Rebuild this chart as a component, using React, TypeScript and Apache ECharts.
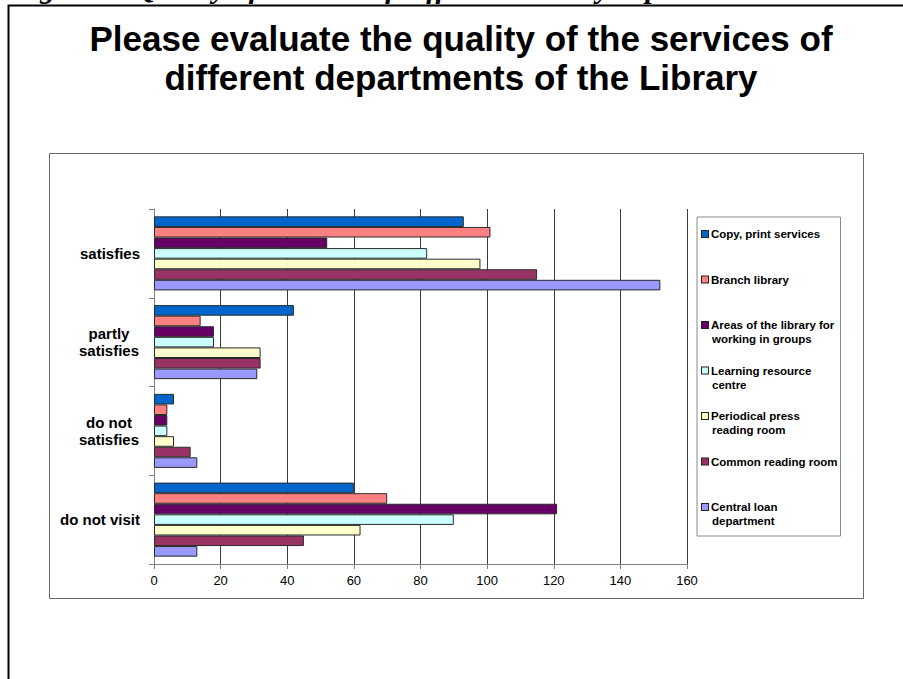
import React, { useEffect, useRef } from "react";
import * as echarts from "echarts";

const titleText = "Please evaluate the quality of the services of\ndifferent departments of the Library";
const captionText = "Figure 5. Quality of services of different Library departments";

const categories = ["satisfies", "partly\nsatisfies", "do not\nsatisfies", "do not visit"];

const departments = [
  "Copy, print services",
  "Branch library",
  "Areas of the library for working in groups",
  "Learning resource centre",
  "Periodical press reading room",
  "Common reading room",
  "Central loan department",
];

const legendLines = [
  ["Copy, print services"],
  ["Branch library"],
  ["Areas of the library for", "working in groups"],
  ["Learning resource", "centre"],
  ["Periodical press", "reading room"],
  ["Common reading room"],
  ["Central loan", "department"],
];

const colors = ["#0066CC", "#FF8080", "#660066", "#CCFFFF", "#FFFFCC", "#993366", "#9999FF"];

// values per department: [satisfies, partly satisfies, do not satisfies, do not visit]
const copyPrint = [93, 42, 6, 60];
const branchLibrary = [101, 14, 4, 70];
const groupAreas = [52, 18, 4, 121];
const learningCentre = [82, 18, 4, 90];
const periodicalRoom = [98, 32, 6, 62];
const commonRoom = [115, 32, 11, 45];
const centralLoan = [152, 31, 13, 13];

const seriesValues = [copyPrint, branchLibrary, groupAreas, learningCentre, periodicalRoom, commonRoom, centralLoan];

const xTicks = { min: 0, max: 160, interval: 20 };

export default function App() {
  const ref = useRef<HTMLDivElement>(null);

  useEffect(() => {
    if (!ref.current) return;
    const chart = echarts.init(ref.current, undefined, { renderer: "svg" });

    const rich: Record<string, any> = {
      t: { fontSize: 11.5, fontWeight: "bold", fontFamily: "'Liberation Sans', Arial, sans-serif", lineHeight: 14, color: "#000" },
      g: { width: 3, height: 7 },
      s: { width: 10, height: 7 },
    };
    colors.forEach((c, i) => {
      rich["m" + i] = { width: 6, height: 6, backgroundColor: c, borderColor: "#222", borderWidth: 1, verticalAlign: "middle" };
    });

    const option: any = {
      animation: false,
      backgroundColor: "#fff",
      title: {
        text: titleText,
        left: 456,
        top: 14,
        textAlign: "center",
        textStyle: {
          fontFamily: "'Liberation Sans', Arial, sans-serif",
          fontSize: 35,
          fontWeight: "bold",
          lineHeight: 39,
          color: "#000",
        },
      },
      graphic: [
        {
          type: "rect",
          z: 0,
          shape: { x: 8.5, y: 5.5, width: 1000, height: 1000 },
          style: { fill: "none", stroke: "#000", lineWidth: 2 },
          silent: true,
        },
        {
          type: "rect",
          z: 0,
          shape: { x: 49.5, y: 153.5, width: 814, height: 445 },
          style: { fill: "none", stroke: "#6a6a6a", lineWidth: 1 },
          silent: true,
        },
        {
          type: "text",
          x: 12,
          y: 2.5,
          style: {
            text: captionText,
            font: "italic bold 30px 'Liberation Serif', 'Times New Roman', serif",
            fill: "#000",
            verticalAlign: "bottom",
          },
          silent: true,
        },
      ],
      grid: { left: 154, right: 216, top: 209, bottom: 115, containLabel: false },
      legend: {
        orient: "vertical",
        left: 697,
        top: 217,
        padding: [10, 3, 8, 0],
        itemGap: 17.5,
        itemWidth: 0,
        itemHeight: 14,
        icon: "none",
        borderColor: "#8a8a8a",
        borderWidth: 1,
        data: departments,
        formatter: (name: string) => {
          const i = departments.indexOf(name);
          const lines = legendLines[i];
          const first = `{m${i}|}{g|}{t|${lines[0]}}`;
          const second = lines[1] ? `{s|}{t|${lines[1]}}` : `{s|}{t| }`;
          return first + "\n" + second;
        },
        textStyle: { rich, lineHeight: 14 },
      },
      xAxis: {
        type: "value",
        min: xTicks.min,
        max: xTicks.max,
        interval: xTicks.interval,
        axisLine: { show: true, lineStyle: { color: "#808080", width: 1 } },
        axisTick: { show: true, length: 5, lineStyle: { color: "#808080" } },
        axisLabel: {
          margin: 10,
          color: "#000",
          fontSize: 13,
          fontFamily: "'Liberation Sans', Arial, sans-serif",
        },
        splitLine: { show: true, lineStyle: { color: "#3c3c3c", width: 1 } },
      },
      yAxis: {
        type: "category",
        inverse: true,
        data: categories,
        axisLine: { show: true, lineStyle: { color: "#808080", width: 1 } },
        axisTick: { show: true, length: 5, lineStyle: { color: "#808080" } },
        axisLabel: {
          margin: 14,
          color: "#000",
          fontSize: 15,
          fontWeight: "bold",
          fontFamily: "'Liberation Sans', Arial, sans-serif",
          lineHeight: 17,
          formatter: (v: string) =>
            v.includes("\n")
              ? v.split("\n").map((l) => `{c|${l}}`).join("\n")
              : `{b|${v}}`,
          rich: {
            c: { width: 62, align: "center", fontSize: 15, fontWeight: "bold", lineHeight: 17, fontFamily: "'Liberation Sans', Arial, sans-serif", color: "#000" },
            b: { fontSize: 15, fontWeight: "bold", lineHeight: 17, fontFamily: "'Liberation Sans', Arial, sans-serif", color: "#000" },
          },
        },
        splitLine: { show: false },
      },
      series: departments.map((name, i) => ({
        name,
        type: "bar",
        data: seriesValues[i],
        barGap: "0%",
        barCategoryGap: "16.6%",
        itemStyle: { color: colors[i], borderColor: "#2a2a2a", borderWidth: 1 },
      })),
    };

    chart.setOption(option);
    return () => chart.dispose();
  }, []);

  return (
    <div
      ref={ref}
      style={{ position: "absolute", left: 0, top: 0, width: 903, height: 679 }}
    />
  );
}
